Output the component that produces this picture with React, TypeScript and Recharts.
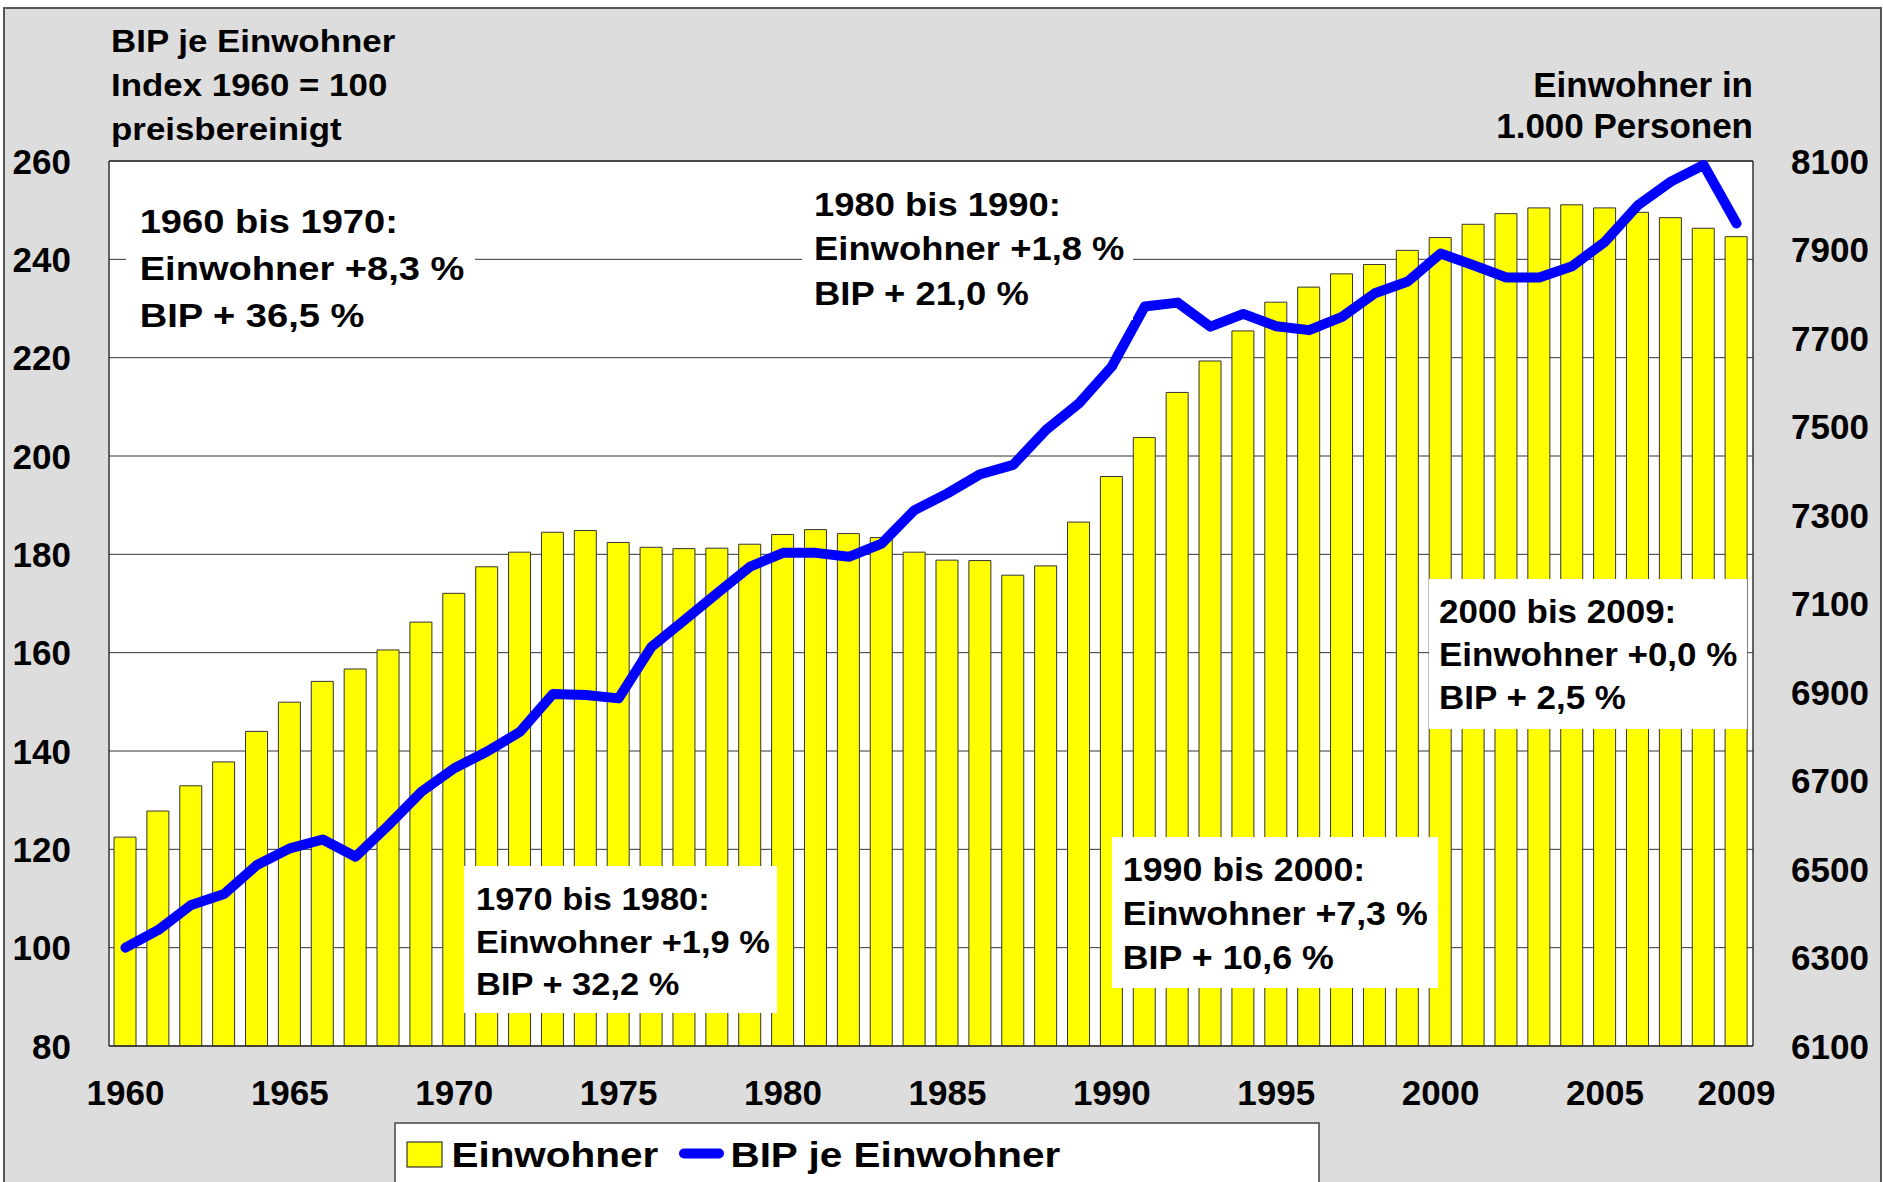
import React from 'react';
import { ComposedChart, Bar, Line, XAxis, YAxis, CartesianGrid, ReferenceLine } from 'recharts';

const YEARS = [
  1960, 1961, 1962, 1963, 1964, 1965, 1966, 1967, 1968, 1969,
  1970, 1971, 1972, 1973, 1974, 1975, 1976, 1977, 1978, 1979,
  1980, 1981, 1982, 1983, 1984, 1985, 1986, 1987, 1988, 1989,
  1990, 1991, 1992, 1993, 1994, 1995, 1996, 1997, 1998, 1999,
  2000, 2001, 2002, 2003, 2004, 2005, 2006, 2007, 2008, 2009,
];

// Einwohner in 1.000 Personen (right axis)
const EINWOHNER = [
  6572, 6631, 6688, 6742, 6811, 6877, 6924, 6952, 6995, 7058,
  7123, 7183, 7216, 7261, 7265, 7238, 7227, 7224, 7225, 7234,
  7256, 7267, 7258, 7249, 7216, 7198, 7197, 7164, 7185, 7284,
  7387, 7475, 7577, 7648, 7716, 7781, 7815, 7845, 7866, 7898,
  7927, 7957, 7981, 7994, 8001, 7994, 7984, 7972, 7948, 7929,
];

// BIP je Einwohner, Index 1960 = 100 (left axis)
const BIP_INDEX = [
  100.0, 103.6, 108.7, 110.9, 116.8, 120.2, 122.0, 118.5, 124.9, 131.7,
  136.5, 139.9, 143.9, 151.6, 151.4, 150.7, 161.2, 166.6, 172.1, 177.5,
  180.3, 180.3, 179.5, 182.2, 189.0, 192.4, 196.3, 198.2, 205.3, 210.7,
  218.2, 230.4, 231.2, 226.3, 228.9, 226.4, 225.6, 228.3, 233.1, 235.5,
  241.2, 238.8, 236.3, 236.3, 238.6, 243.6, 251.0, 255.8, 259.2, 247.3,
];

const LEFT_TICKS = [80, 100, 120, 140, 160, 180, 200, 220, 240, 260];
const RIGHT_TICKS = [6100, 6300, 6500, 6700, 6900, 7100, 7300, 7500, 7700, 7900, 8100];
const X_TICK_YEARS = [1960, 1965, 1970, 1975, 1980, 1985, 1990, 1995, 2000, 2005, 2009];

const TITLE_LEFT = ['BIP je Einwohner', 'Index 1960 = 100', 'preisbereinigt'];
const TITLE_RIGHT = ['Einwohner in', '1.000 Personen'];
const LEGEND_LABELS = ['Einwohner', 'BIP je Einwohner'];

const NOTE_1960 = ['1960 bis 1970:', 'Einwohner +8,3 %', 'BIP + 36,5 %'];
const NOTE_1970 = ['1970 bis 1980:', 'Einwohner +1,9 %', 'BIP + 32,2 %'];
const NOTE_1980 = ['1980 bis 1990:', 'Einwohner +1,8 %', 'BIP + 21,0 %'];
const NOTE_1990 = ['1990 bis 2000:', 'Einwohner +7,3 %', 'BIP + 10,6 %'];
const NOTE_2000 = ['2000 bis 2009:', 'Einwohner +0,0 %', 'BIP + 2,5 %'];

const data = YEARS.map((year, i) => ({
  year,
  einwohner: EINWOHNER[i],
  bip: BIP_INDEX[i],
}));

const FONT = '"Liberation Sans", Arial, Helvetica, sans-serif';

// layout of the annotation boxes (positions / styles only)
const NOTE_LAYOUT = [
  { lines: NOTE_1960, x: 126, y: 188, w: 349, h: 158, tx: 139.7, ty: 233.3, ls: 46.7, fs: 34, sx: 1.12 },
  { lines: NOTE_1980, x: 802, y: 175, w: 331, h: 145, tx: 814, ty: 215.8, ls: 44.4, fs: 32.5, sx: 1.12 },
  { lines: NOTE_1970, x: 464, y: 866, w: 313, h: 147, tx: 476, ty: 910.4, ls: 42.4, fs: 30.5, sx: 1.13 },
  { lines: NOTE_1990, x: 1112, y: 837, w: 326, h: 151, tx: 1122.8, ty: 880.7, ls: 44.3, fs: 32.5, sx: 1.1 },
  { lines: NOTE_2000, x: 1429, y: 579, w: 318, h: 150, tx: 1439, ty: 622.8, ls: 43.3, fs: 33, sx: 1.06 },
];

const LeftTick = (props: any) => {
  const { x, y, payload } = props;
  return (
    <text x={x - 38} y={y + 12.5} textAnchor="end" fontSize={35} fontWeight="bold" fontFamily={FONT} fill="#000">
      {payload.value}
    </text>
  );
};

const RightTick = (props: any) => {
  const { x, y, payload } = props;
  return (
    <text x={x + 38} y={y + 12.5} textAnchor="start" fontSize={35} fontWeight="bold" fontFamily={FONT} fill="#000">
      {payload.value}
    </text>
  );
};

const XTick = (props: any) => {
  const { x, y, payload } = props;
  if (!X_TICK_YEARS.includes(Number(payload.value))) return <g />;
  return (
    <text x={x} y={y + 59} textAnchor="middle" fontSize={35} fontWeight="bold" fontFamily={FONT} fill="#000">
      {payload.value}
    </text>
  );
};

const StretchText = ({ x, y, sx, fs, anchor, children }: any) => (
  <text
    transform={`translate(${x},${y}) scale(${sx},1)`}
    x={0}
    y={0}
    textAnchor={anchor || 'start'}
    fontSize={fs}
    fontWeight="bold"
    fontFamily={FONT}
    fill="#000"
  >
    {children}
  </text>
);

export default function App() {
  return (
    <div style={{ position: 'absolute', left: 0, top: 0, width: 1883, height: 1182, background: '#fff', overflow: 'hidden' }}>
      <div
        style={{
          position: 'absolute',
          left: 3,
          top: 7,
          width: 1879,
          height: 1200,
          background: '#DDDDDD',
          borderTop: '2px solid #555',
          borderLeft: '2px solid #555',
          borderRight: '2px solid #555',
          boxSizing: 'border-box',
        }}
      />
      <div style={{ position: 'absolute', left: 0, top: 0 }}>
        <ComposedChart
          width={1883}
          height={1182}
          data={data}
          margin={{ top: 161, right: 0, bottom: 0, left: 0 }}
        >
          <CartesianGrid
            yAxisId="left"
            vertical={false}
            stroke="#333"
            strokeWidth={1}
            fill="#ffffff"
            fillOpacity={1}
          />
          <XAxis
            dataKey="year"
            type="category"
            interval={0}
            height={136}
            tickLine={false}
            tickSize={0}
            tickMargin={0}
            axisLine={{ stroke: '#333', strokeWidth: 1.5 }}
            tick={<XTick />}
          />
          <YAxis
            yAxisId="left"
            orientation="left"
            width={109}
            domain={[80, 260]}
            ticks={LEFT_TICKS}
            interval={0}
            tickLine={false}
            tickSize={0}
            tickMargin={0}
            axisLine={{ stroke: '#333', strokeWidth: 1.5 }}
            tick={<LeftTick />}
          />
          <YAxis
            yAxisId="right"
            orientation="right"
            width={130}
            domain={[6100, 8100]}
            ticks={RIGHT_TICKS}
            interval={0}
            tickLine={false}
            tickSize={0}
            tickMargin={0}
            axisLine={{ stroke: '#333', strokeWidth: 1.5 }}
            tick={<RightTick />}
          />
          <ReferenceLine yAxisId="left" y={260} stroke="#333" strokeWidth={1.5} />
          <Bar
            yAxisId="right"
            dataKey="einwohner"
            name="Einwohner"
            fill="#FFFF00"
            stroke="#333"
            strokeWidth={1}
            barSize={22}
            isAnimationActive={false}
          />
          <Line
            yAxisId="left"
            type="linear"
            dataKey="bip"
            name="BIP je Einwohner"
            stroke="#0000FF"
            strokeWidth={10}
            strokeLinejoin="round"
            strokeLinecap="round"
            dot={false}
            activeDot={false}
            isAnimationActive={false}
          />
        </ComposedChart>
      </div>
      <svg
        width={1883}
        height={1182}
        style={{ position: 'absolute', left: 0, top: 0, pointerEvents: 'none' }}
      >
        {TITLE_LEFT.map((t, i) => (
          <StretchText key={t} x={111} y={52 + i * 44} sx={1.09} fs={32}>
            {t}
          </StretchText>
        ))}
        {TITLE_RIGHT.map((t, i) => (
          <StretchText key={t} x={1753} y={96.7 + i * 41.6} sx={1} fs={35} anchor="end">
            {t}
          </StretchText>
        ))}
        {NOTE_LAYOUT.map((n, k) => (
          <g key={k}>
            <rect x={n.x} y={n.y} width={n.w} height={n.h} fill="#fff" />
            {n.lines.map((t, i) => (
              <StretchText key={i} x={n.tx} y={n.ty + i * n.ls} sx={n.sx} fs={n.fs}>
                {t}
              </StretchText>
            ))}
          </g>
        ))}
        <g>
          <rect x={395} y={1123} width={924} height={80} fill="#fff" stroke="#444" strokeWidth={1.5} />
          <rect x={407} y={1142} width={35} height={25} fill="#FFFF00" stroke="#333" strokeWidth={1.2} />
          <StretchText x={451.4} y={1166.7} sx={1.157} fs={35}>
            {LEGEND_LABELS[0]}
          </StretchText>
          <line x1={684} y1={1153.5} x2={719} y2={1153.5} stroke="#0000FF" strokeWidth={10} strokeLinecap="round" />
          <StretchText x={730.4} y={1166.7} sx={1.157} fs={35}>
            {LEGEND_LABELS[1]}
          </StretchText>
        </g>
      </svg>
    </div>
  );
}
